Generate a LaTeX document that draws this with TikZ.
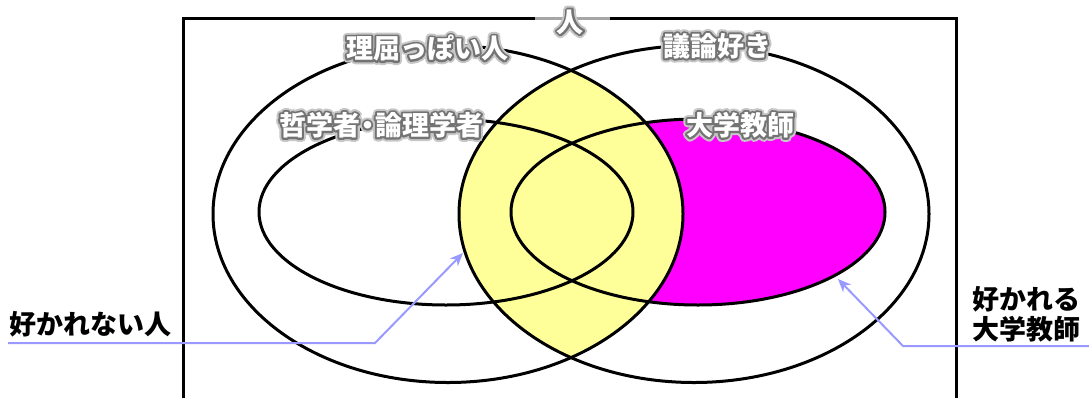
\documentclass[tikz,border=0pt]{standalone}
\usepackage{fontspec}
\newfontfamily\jp{Noto Sans CJK JP}
\usetikzlibrary{calc,arrows.meta}
\definecolor{lensyellow}{HTML}{FFFF99}
\definecolor{teachermag}{HTML}{FF00FF}
\definecolor{arrowblue}{HTML}{9999FF}
\tikzset{
 lbl/.style={font=\jp\bfseries\fontsize{27}{30}\selectfont, inner sep=0pt},
 glowtxt/.style={lbl, text=white},
 blacklbl/.style={lbl, text=black, align=left},
 setline/.style={line width=3pt, black},
 pointer/.style={arrowblue, line width=2pt, -{Stealth[length=13pt,width=11pt,inset=4pt]}},
 veil/.style={fill=white, fill opacity=0.65, draw=none},
}
\newcommand\strokedtext[2]{\special{pdf:literal direct 1 Tr #1 w 1 j 1 J}#2\special{pdf:literal direct 0 Tr}}
\newcommand\glowing[1]{\rlap{\color{black!22}\strokedtext{8}{#1}}\rlap{\color{black!55}\strokedtext{4}{#1}}\color{white}#1}
\begin{document}
\begin{tikzpicture}[x=1pt,y=-1pt]
\useasboundingbox (0,0) rectangle (1089,397);
\coordinate (cL) at (448,214);
\coordinate (cR) at (694,214);
\coordinate (iL) at (446,212);
\coordinate (iR) at (698,212);
% fills
\fill[teachermag] (iR) ellipse [x radius=187pt, y radius=93pt];
\begin{scope}
 \clip (cL) ellipse [x radius=235pt, y radius=168.5pt];
 \fill[lensyellow] (cR) ellipse [x radius=235pt, y radius=168.5pt];
\end{scope}
% outlines
\draw[setline] (183,405) -- (183,18) -- (956,18) -- (956,405);
\draw[setline] (cL) ellipse [x radius=235pt, y radius=168.5pt];
\draw[setline] (cR) ellipse [x radius=235pt, y radius=168.5pt];
\draw[setline] (iL) ellipse [x radius=187pt, y radius=93pt];
\draw[setline] (iR) ellipse [x radius=187pt, y radius=93pt];
% outside labels and pointers
\node[blacklbl, anchor=west] (disliked) at (9,324) {好かれない人};
\node[blacklbl, anchor=west] (liked) at (972,314) {好かれる\\大学教師};
\coordinate (lstart) at (8,343);
\coordinate (lbend) at (375,343);
\coordinate (ltip) at (463,253);
\coordinate (rstart) at (1089,346);
\coordinate (rbend) at (903,346);
\coordinate (rtip) at (838,279);
\draw[pointer] (lstart) -- (lbend) -- (ltip);
\draw[pointer] (rstart) -- (rbend) -- (rtip);
% glowing set labels (last)
\fill[veil] (535,10) rectangle (610,35);
\node[glowtxt] (hito) at (570,22) {\glowing{人}};
\node[glowtxt] (rikutsu) at (427,48) {\glowing{理屈っぽい人}};
\node[glowtxt] (giron) at (717,46) {\glowing{議論好き}};
\node[glowtxt] (tetsu) at (381,125) {\glowing{哲学者\kern-6pt・\kern-6pt論理学者}};
\node[glowtxt] (kyoshi) at (740,125) {\glowing{大学教師}};
\end{tikzpicture}
\end{document}
